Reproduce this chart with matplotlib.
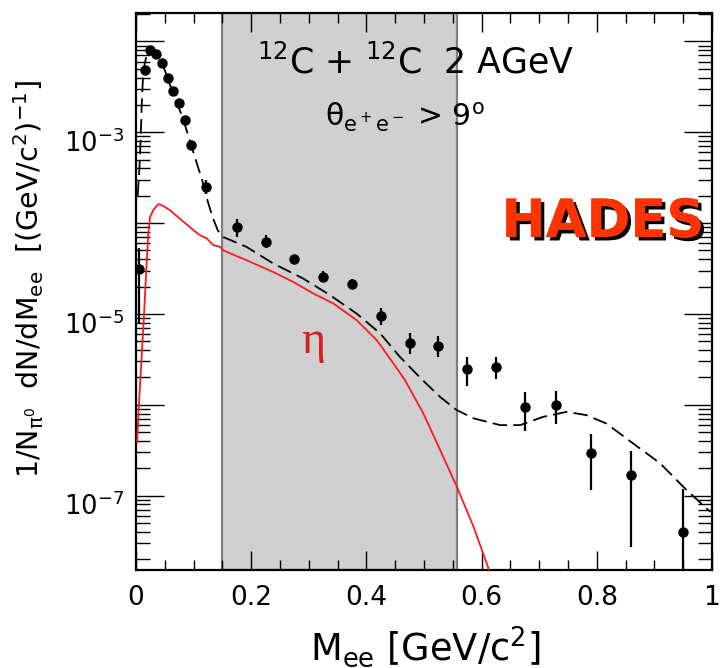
import numpy as np
import matplotlib
matplotlib.use("Agg")
import matplotlib.pyplot as plt
from matplotlib import patheffects
from matplotlib.transforms import ScaledTranslation
from matplotlib.ticker import FixedLocator, LogLocator, NullFormatter, MultipleLocator

plt.rcParams['font.family'] = ['DejaVu Sans']
plt.rcParams['mathtext.fontset'] = 'dejavusans'
plt.rcParams['mathtext.default'] = 'regular'

# ---- data points ----
data_x = [0.005, 0.015, 0.025, 0.035, 0.045, 0.055, 0.065, 0.075, 0.085, 0.095, 0.122,
          0.175, 0.225, 0.275, 0.325, 0.375, 0.425, 0.475, 0.525, 0.575, 0.625,
          0.675, 0.73, 0.79, 0.86, 0.95]
data_y = [3.1e-5, 4.8e-3, 8.1e-3, 7.2e-3, 5.85e-3, 3.95e-3, 2.82e-3, 2.12e-3, 1.36e-3, 7.3e-4, 2.5e-4,
          9.1e-5, 6.2e-5, 4.0e-5, 2.56e-5, 2.13e-5, 9.5e-6, 4.8e-6, 4.46e-6, 2.5e-6, 2.62e-6,
          9.35e-7, 1.0e-6, 2.95e-7, 1.71e-7, 3.98e-8]
err_hi = [5.3e-5, 4.95e-3, 8.3e-3, 7.4e-3, 6.0e-3, 4.05e-3, 2.9e-3, 2.18e-3, 1.4e-3, 7.6e-4, 2.95e-4,
          1.096e-4, 7.36e-5, 4.5e-5, 2.98e-5, 2.42e-5, 1.17e-5, 6.1e-6, 5.74e-6, 3.38e-6, 3.38e-6,
          1.37e-6, 1.41e-6, 4.72e-7, 3.12e-7, 1.17e-7]
err_lo = [7.9e-6, 4.65e-3, 7.9e-3, 7.0e-3, 5.7e-3, 3.85e-3, 2.74e-3, 2.06e-3, 1.32e-3, 7.0e-4, 2.1e-4,
          7.05e-5, 5.26e-5, 3.56e-5, 2.25e-5, 1.88e-5, 7.53e-6, 3.67e-6, 3.38e-6, 1.61e-6, 1.9e-6,
          5.14e-7, 6.08e-7, 1.15e-7, 2.74e-8, 1e-9]

# ---- cocktail (dashed) ----
cock_x = [0.003, 0.006, 0.008, 0.0098, 0.0116, 0.014, 0.02, 0.024, 0.035, 0.047, 0.058, 0.069,
          0.081, 0.093, 0.104, 0.116, 0.124, 0.133, 0.142, 0.152, 0.192, 0.238, 0.29, 0.337,
          0.383, 0.424, 0.458, 0.493, 0.528, 0.557, 0.586, 0.632, 0.667, 0.707, 0.748, 0.782,
          0.817, 0.863, 0.91, 0.956, 0.997]
cock_y = [2.0e-4, 4.1e-4, 8.2e-4, 1.88e-3, 3.46e-3, 5.2e-3, 8.0e-3, 8.3e-3, 7.4e-3, 5.45e-3,
          3.46e-3, 2.25e-3, 1.46e-3, 8.2e-4, 4.9e-4, 2.82e-4, 1.78e-4, 1.16e-4, 8.3e-5, 7.0e-5,
          5.47e-5, 3.6e-5, 2.46e-5, 1.61e-5, 1.01e-5, 6.1e-6, 3.38e-6, 2.0e-6, 1.22e-6, 8.74e-7,
          7.1e-7, 5.98e-7, 5.98e-7, 7.38e-7, 8.37e-7, 7.7e-7, 6.2e-7, 3.76e-7, 2.27e-7, 1.15e-7,
          6.65e-8]

# ---- eta contribution (red) ----
eta_x = [0.002, 0.0058, 0.0098, 0.014, 0.0185, 0.0214, 0.0243, 0.03, 0.0388, 0.0446, 0.059,
         0.076, 0.0995, 0.111, 0.1227, 0.134, 0.146, 0.152, 0.192, 0.238, 0.273, 0.308, 0.343,
         0.383, 0.418, 0.447, 0.467, 0.499, 0.528, 0.557, 0.586, 0.615]
eta_y = [3.9e-7, 1.22e-6, 3.38e-6, 1.01e-5, 3.6e-5, 7.7e-5, 1.17e-4, 1.39e-4, 1.62e-4, 1.58e-4,
         1.39e-4, 1.12e-4, 8.4e-5, 7.36e-5, 6.8e-5, 5.73e-5, 5.47e-5, 5.0e-5, 3.9e-5, 2.9e-5,
         2.25e-5, 1.68e-5, 1.3e-5, 8.55e-6, 5.15e-6, 2.85e-6, 1.87e-6, 8.0e-7, 3.18e-7, 1.25e-7,
         4.55e-8, 1.4e-8]

shade_range = [0.15, 0.558]
y_major = [1e-8, 1e-7, 1e-6, 1e-5, 1e-4, 1e-3, 1e-2]
y_label_decades = [1e-7, 1e-5, 1e-3]
x_ticks = [0, 0.2, 0.4, 0.6, 0.8, 1.0]
x_tick_labels = ['0', '0.2', '0.4', '0.6', '0.8', '1']

fig = plt.figure(figsize=(7.2, 6.68), dpi=100)
ax = fig.add_axes([136/720, 1-570/668, 576/720, (570-12.7)/668])

ax.axvspan(shade_range[0], shade_range[1], facecolor='#d0d0d0', edgecolor='#7f7f7f',
           linewidth=1.6, zorder=0.5)

ax.plot(eta_x, eta_y, color='#ff1a1a', lw=1.3, zorder=3)
ax.plot(cock_x, cock_y, color='black', lw=1.3, dashes=(8, 3.5), zorder=3)

dy = np.array(data_y)
yerr = [dy - np.array(err_lo), np.array(err_hi) - dy]
ax.errorbar(data_x, data_y, yerr=yerr, fmt='o', color='black', ms=6.5, elinewidth=1.6,
            capsize=0, zorder=4)

ax.set_yscale('log')
ax.set_xlim(0, 1)
ax.set_ylim(1.52e-8, 2.07e-2)

ax.xaxis.set_minor_locator(MultipleLocator(0.05))
ax.set_xticks(x_ticks)
ax.set_xticklabels(x_tick_labels)

ax.yaxis.set_major_locator(FixedLocator(y_major))
ax.yaxis.set_minor_locator(LogLocator(base=10, subs=np.arange(2, 10), numticks=20))
ax.yaxis.set_minor_formatter(NullFormatter())
ax.set_yticklabels(['' if v not in y_label_decades else r'$10^{%d}$' % int(round(np.log10(v)))
                    for v in y_major])

ax.tick_params(axis='both', which='both', direction='in', top=True, right=True, width=1.0)
ax.tick_params(axis='x', which='major', length=14, labelsize=19, pad=11)
ax.tick_params(axis='x', which='minor', length=7)
ax.tick_params(axis='y', which='major', length=20, labelsize=18.5, pad=8.5)
ax.tick_params(axis='y', which='minor', length=10)
for s in ax.spines.values():
    s.set_linewidth(1.6)

shift = ScaledTranslation(0, -6/72, fig.dpi_scale_trans)
for lab in ax.get_yticklabels():
    lab.set_transform(lab.get_transform() + shift)

fig.text(425/720, 1-660/668, r'M$_{ee}$ [GeV/c$^2$]', ha='center', va='baseline', fontsize=26.5)
fig.text(29/720, 1-279/668, r'1/N$_{\pi^0}$  dN/dM$_{ee}$  [(GeV/c$^2$)$^{-1}$]',
         ha='center', va='center', rotation=90, fontsize=20.5)

fig.text(257/720, 1-73/668, r'$^{12}$C + $^{12}$C  2 AGeV', ha='left', va='baseline', fontsize=25)
fig.text(325/720, 1-127/668, r'$\theta_{e^+e^-}$ > 9$^o$', ha='left', va='baseline', fontsize=21.5)

fig.text(603/720, 1-222/668, 'HADES', ha='center', va='center', fontsize=38, fontweight='bold',
         family='DejaVu Sans', color='#ff3300',
         path_effects=[patheffects.withSimplePatchShadow(offset=(2.5, -2.5), shadow_rgbFace='black', alpha=1.0),
                       patheffects.Normal()])

fig.text(313/720, 1-342/668, 'η', ha='center', va='center', fontsize=33, color='#d42020',
         family='Liberation Serif')

fig.savefig('out.png', dpi=100)
